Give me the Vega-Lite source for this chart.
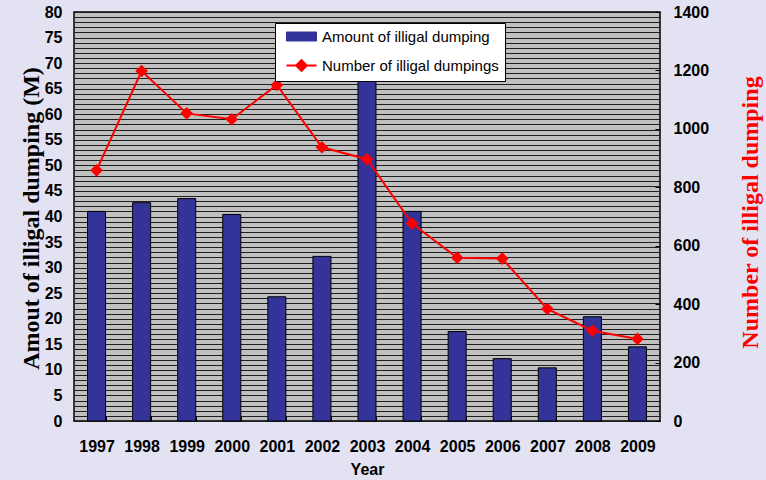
{
  "$schema": "https://vega.github.io/schema/vega-lite/v6.json",
  "width": 586,
  "height": 409,
  "autosize": {"type": "none"},
  "padding": {"left": 74, "top": 12, "right": 106, "bottom": 59},
  "background": "#e2e2f3",
  "config": {
    "view": {"fill": "#c0c0c0", "stroke": "#000000", "strokeWidth": 1.5},
    "axis": {
      "labelFont": "Liberation Sans",
      "labelFontWeight": "bold",
      "labelFontSize": 16,
      "labelColor": "#000000",
      "domain": false,
      "tickColor": "#000000"
    }
  },
  "data": {
    "values": [
      {"year": 1997, "amount": 41.0, "count": 858},
      {"year": 1998, "amount": 42.7, "count": 1198},
      {"year": 1999, "amount": 43.5, "count": 1053},
      {"year": 2000, "amount": 40.4, "count": 1033},
      {"year": 2001, "amount": 24.3, "count": 1150},
      {"year": 2002, "amount": 32.2, "count": 937},
      {"year": 2003, "amount": 67.6, "count": 896},
      {"year": 2004, "amount": 41.0, "count": 676},
      {"year": 2005, "amount": 17.5, "count": 559},
      {"year": 2006, "amount": 12.2, "count": 556},
      {"year": 2007, "amount": 10.4, "count": 384},
      {"year": 2008, "amount": 20.4, "count": 309},
      {"year": 2009, "amount": 14.5, "count": 281}
    ]
  },
  "encoding": {
    "x": {
      "field": "year",
      "type": "ordinal",
      "scale": {"paddingInner": 0.6, "paddingOuter": 0.3},
      "axis": {
        "title": "Year",
        "titleFont": "Liberation Sans",
        "titleFontSize": 16,
        "titleFontWeight": "bold",
        "titleColor": "#000000",
        "titlePadding": 7,
        "labelAngle": 0,
        "labelPadding": 22,
        "tickBand": "extent",
        "tickSize": -5,
        "grid": false
      }
    }
  },
  "layer": [
    {
      "mark": {"type": "bar", "stroke": "#000000", "strokeWidth": 1},
      "encoding": {
        "y": {
          "field": "amount",
          "type": "quantitative",
          "scale": {"domain": [0, 80], "nice": false},
          "axis": {
            "title": "Amout of illigal dumping (M)",
            "titleFont": "Liberation Serif",
            "titleFontSize": 24,
            "titleFontWeight": "bold",
            "titleColor": "#000000",
            "titlePadding": 1,
            "titleY": 206,
            "values": [0,1,2,3,4,5,6,7,8,9,10,11,12,13,14,15,16,17,18,19,20,21,22,23,24,25,26,27,28,29,30,31,32,33,34,35,36,37,38,39,40,41,42,43,44,45,46,47,48,49,50,51,52,53,54,55,56,57,58,59,60,61,62,63,64,65,66,67,68,69,70,71,72,73,74,75,76,77,78,79,80],
            "labelExpr": "datum.value % 5 === 0 ? datum.label : ''",
            "labelOverlap": false,
            "labelPadding": 12,
            "ticks": false,
            "grid": true,
            "gridColor": "#1e1e1e",
            "gridWidth": 1
          }
        },
        "color": {
          "datum": "Amount of illigal dumping",
          "type": "nominal",
          "scale": {
            "domain": ["Amount of illigal dumping", "Number of illigal dumpings"],
            "range": ["#333399", "#ff0000"]
          },
          "legend": {
            "orient": "none",
            "legendX": 201,
            "legendY": 11,
            "title": null,
            "fillColor": "#ffffff",
            "strokeColor": "#000000",
            "padding": 6,
            "labelFont": "Liberation Sans",
            "labelFontSize": 15,
            "labelFontWeight": "normal",
            "labelColor": "#000000",
            "labelLimit": 400,
            "labelOffset": 13,
            "symbolOffset": 13,
            "rowPadding": 11,
            "symbolSize": 900,
            "encode": {
              "symbols": {
                "update": {
                  "shape": {"signal": "datum.value === 'Amount of illigal dumping' ? 'M-1,-0.3H1V0.3H-1Z' : 'M-1,0H1M0,-0.36L0.36,0L0,0.36L-0.36,0Z'"},
                  "fill": {"signal": "datum.value === 'Amount of illigal dumping' ? '#333399' : '#ff0000'"},
                  "stroke": {"signal": "datum.value === 'Amount of illigal dumping' ? '#000000' : '#ff0000'"},
                  "strokeWidth": {"signal": "datum.value === 'Amount of illigal dumping' ? 1 : 2"}
                }
              }
            }
          }
        }
      }
    },
    {
      "mark": {
        "type": "line",
        "strokeWidth": 2,
        "point": {"shape": "diamond", "size": 160, "filled": true, "opacity": 1}
      },
      "encoding": {
        "y": {
          "field": "count",
          "type": "quantitative",
          "scale": {"domain": [0, 1400], "nice": false},
          "axis": {
            "orient": "right",
            "format": "d",
            "title": "Number of illigal dumping",
            "titleFont": "Liberation Serif",
            "titleFontSize": 24,
            "titleFontWeight": "bold",
            "titleColor": "#ff0000",
            "titleAngle": 270,
            "titlePadding": 54,
            "titleY": 200,
            "values": [0, 200, 400, 600, 800, 1000, 1200, 1400],
            "labelPadding": 18,
            "tickSize": -5,
            "grid": false
          }
        },
        "color": {
          "datum": "Number of illigal dumpings",
          "type": "nominal",
          "legend": {
            "orient": "none",
            "legendX": 201,
            "legendY": 11,
            "title": null,
            "fillColor": "#ffffff",
            "strokeColor": "#000000",
            "padding": 6,
            "labelFont": "Liberation Sans",
            "labelFontSize": 15,
            "labelFontWeight": "normal",
            "labelColor": "#000000",
            "labelLimit": 400,
            "labelOffset": 13,
            "symbolOffset": 13,
            "rowPadding": 11,
            "symbolSize": 900,
            "encode": {
              "symbols": {
                "update": {
                  "shape": {"signal": "datum.value === 'Amount of illigal dumping' ? 'M-1,-0.3H1V0.3H-1Z' : 'M-1,0H1M0,-0.36L0.36,0L0,0.36L-0.36,0Z'"},
                  "fill": {"signal": "datum.value === 'Amount of illigal dumping' ? '#333399' : '#ff0000'"},
                  "stroke": {"signal": "datum.value === 'Amount of illigal dumping' ? '#000000' : '#ff0000'"},
                  "strokeWidth": {"signal": "datum.value === 'Amount of illigal dumping' ? 1 : 2"}
                }
              }
            }
          }
        }
      }
    }
  ],
  "resolve": {"scale": {"y": "independent"}}
}
